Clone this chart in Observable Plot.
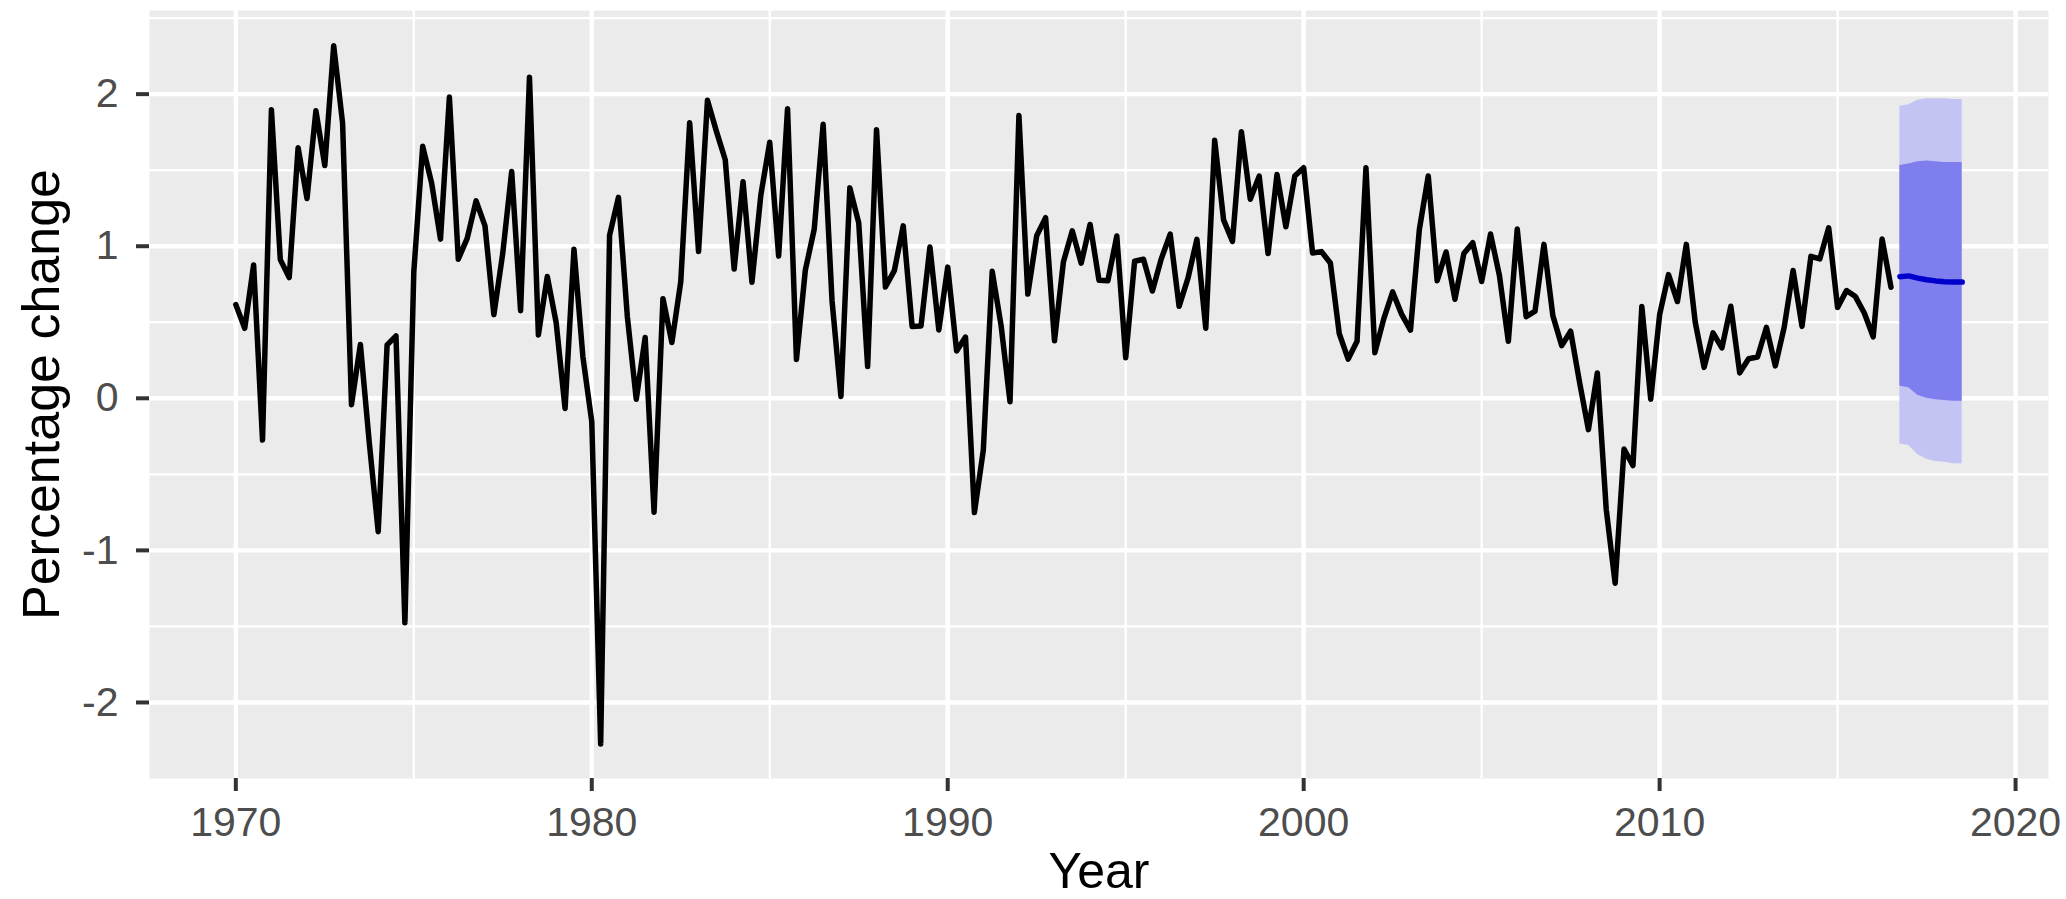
<!DOCTYPE html>
<html>
<head>
<meta charset="utf-8">
<script src="https://cdn.jsdelivr.net/npm/d3@7"></script>
<script src="https://cdn.jsdelivr.net/npm/@observablehq/plot@0.6"></script>
<style>
  html, body { margin: 0; padding: 0; background: #ffffff; }
  #chart { width: 2066px; height: 899px; }
</style>
</head>
<body>
<div id="chart"></div>
<script>
// Quarterly percentage change in US consumption, starting 1970 Q1
const startYear = 1970;
const consumption = [
  0.6159862, 0.4603757, 0.8767914, -0.2742451,
  1.8973708, 0.9119010, 0.7939073, 1.6479722,
  1.3134518, 1.8911288, 1.5303297, 2.3184960,
  1.8082203, -0.0416701, 0.3543677, -0.2925247,
  -0.8771509, 0.3514185, 0.4095653, -1.4755292,
  0.8303783, 1.6571636, 1.4170315, 1.0464640,
  1.9805930, 0.9150575, 1.0510796, 1.2983380,
  1.1338469, 0.5502939, 0.9553813, 1.4913022,
  0.5763616, 2.1106012, 0.4168155, 0.8006342,
  0.4976719, -0.0671006, 0.9808357, 0.2743911,
  -0.1535087, -2.2727877, 1.0712484, 1.3214541,
  0.5359296, -0.0064226, 0.4003624, -0.7485745,
  0.6552349, 0.3664458, 0.7665221, 1.8115616,
  0.9648386, 1.9594393, 1.7568066, 1.5689022,
  0.8495298, 1.4243054, 0.7628479, 1.3366302,
  1.6837017, 0.9348497, 1.9045011, 0.2551213,
  0.8427434, 1.1122849, 1.8017651, 0.6414396,
  0.0120817, 1.3836640, 1.1532541, 0.2088617,
  1.7661698, 0.7317318, 0.8397219, 1.1340009,
  0.4716153, 0.4754612, 0.9944426, 0.4498011,
  0.8625848, 0.3115015, 0.4027221, -0.7513700,
  -0.3400440, 0.8348226, 0.4778810, -0.0229478,
  1.8596453, 0.6855587, 1.0691573, 1.1879428,
  0.3778541, 0.8969155, 1.1009917, 0.8883001,
  1.1432399, 0.7758062, 0.7735624, 1.0673818,
  0.2663587, 0.9009097, 0.9145108, 0.7054580,
  0.9170213, 1.0790108, 0.6049287, 0.7897958,
  1.0452734, 0.4601453, 1.6966810, 1.1735296,
  1.0321426, 1.7532024, 1.3093768, 1.4606467,
  0.9516838, 1.4711547, 1.1284812, 1.4610680,
  1.5157614, 0.9550218, 0.9645765, 0.8896227,
  0.4247780, 0.2580897, 0.3747213, 1.5152765,
  0.3000286, 0.5225493, 0.6994924, 0.5535059,
  0.4480232, 1.1102022, 1.4616478, 0.7731366,
  0.9622618, 0.6514339, 0.9515082, 1.0233006,
  0.7681012, 1.0805048, 0.8065290, 0.3749186,
  1.1129962, 0.5365289, 0.5734917, 1.0122011,
  0.5438302, 0.3463012, 0.4409186, 0.1065283,
  -0.2059960, 0.1663744, -0.7294287, -1.2159035,
  -0.3337765, -0.4421009, 0.6034416, -0.0060004,
  0.5495934, 0.8136005, 0.6363232, 1.0122616,
  0.5008018, 0.2034224, 0.4305013, 0.3320839,
  0.6050216, 0.1669722, 0.2599626, 0.2713380,
  0.4660958, 0.2128478, 0.4676989, 0.8409836,
  0.4729858, 0.9335591, 0.9161719, 1.1211811,
  0.5964049, 0.7085963, 0.6688585, 0.5608287,
  0.4041718, 1.0475715, 0.7297092
];

// Forecast, 2016 Q4 to 2018 Q3
const fcStart = 2016.75;
const fcMean  = [0.80, 0.805, 0.79, 0.78, 0.772, 0.767, 0.765, 0.764];
const fcLo80  = [0.08, 0.07, 0.02, 0.00, -0.01, -0.015, -0.02, -0.02];
const fcHi80  = [1.53, 1.54, 1.555, 1.56, 1.555, 1.55, 1.55, 1.55];
const fcLo95  = [-0.30, -0.31, -0.37, -0.40, -0.415, -0.42, -0.43, -0.43];
const fcHi95  = [1.92, 1.93, 1.96, 1.97, 1.97, 1.97, 1.965, 1.965];

const xTicks = [1970, 1980, 1990, 2000, 2010, 2020];
const xMinor = [1975, 1985, 1995, 2005, 2015];
const yTicks = [-2, -1, 0, 1, 2];
const yMinor = [-1.5, -0.5, 0.5, 1.5, 2.5];

const series = consumption.map((v, i) => ({t: startYear + i * 0.25, v}));
const fc = fcMean.map((m, i) => ({
  t: fcStart + i * 0.25, m, lo80: fcLo80[i], hi80: fcHi80[i], lo95: fcLo95[i], hi95: fcHi95[i]
}));

const font = "'Liberation Sans', Arial, Helvetica, sans-serif";

const chart = Plot.plot({
  width: 2066,
  height: 899,
  marginLeft: 149,
  marginRight: 18,
  marginTop: 10,
  marginBottom: 121,
  style: {fontFamily: font, background: "#ffffff"},
  x: {domain: [1967.575, 2020.925]},
  y: {domain: [-2.50, 2.55]},
  marks: [
    Plot.frame({fill: "#EBEBEB", stroke: null}),
    Plot.ruleX(xMinor, {stroke: "#ffffff", strokeWidth: 2.4}),
    Plot.ruleY(yMinor, {stroke: "#ffffff", strokeWidth: 2.4}),
    Plot.ruleX(xTicks, {stroke: "#ffffff", strokeWidth: 4.4}),
    Plot.ruleY(yTicks, {stroke: "#ffffff", strokeWidth: 4.4}),
    Plot.areaY(fc, {x: "t", y1: "lo95", y2: "hi95", fill: "#C4C4F4", curve: "linear"}),
    Plot.areaY(fc, {x: "t", y1: "lo80", y2: "hi80", fill: "#7E7EEE", curve: "linear"}),
    Plot.lineY(series, {x: "t", y: "v", stroke: "#000000", strokeWidth: 5.5, strokeLinejoin: "round"}),
    Plot.lineY(fc, {x: "t", y: "m", stroke: "#0000CC", strokeWidth: 5.5}),
    Plot.axisX({
      ticks: xTicks, tickSize: 13, tickPadding: 15, tickFormat: d => String(d),
      fontSize: 41, color: "#4D4D4D", stroke: "#333333", strokeWidth: 4,
      label: null
    }),
    Plot.axisY({
      ticks: yTicks, tickSize: 13, tickPadding: 18, tickFormat: d => String(d),
      fontSize: 41, color: "#4D4D4D", stroke: "#333333", strokeWidth: 4,
      label: null
    }),
    Plot.text(["Year"], {frameAnchor: "bottom", lineAnchor: "middle", textAnchor: "middle", dy: 93, fontSize: 50, fill: "#000000", fontFamily: font}),
    Plot.text(["Percentage change"], {frameAnchor: "left", lineAnchor: "middle", textAnchor: "middle", dx: -107, rotate: -90, fontSize: 52, fill: "#000000", fontFamily: font})
  ]
});
document.getElementById("chart").appendChild(chart);
</script>
</body>
</html>
